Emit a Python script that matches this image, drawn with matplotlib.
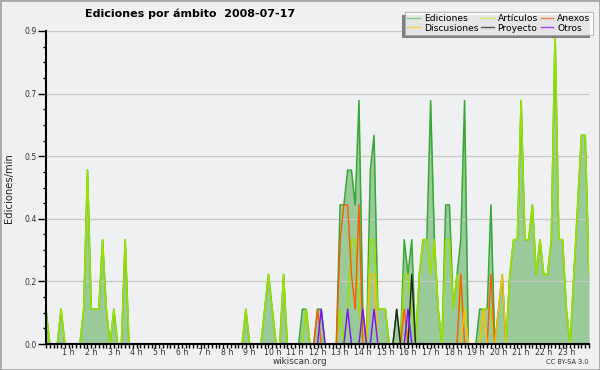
import numpy as np
import matplotlib
matplotlib.use("Agg")
import matplotlib.pyplot as plt
from matplotlib.lines import Line2D
from matplotlib.patches import Rectangle
from matplotlib.ticker import FixedLocator, MultipleLocator

# edits per 10-minute slot, in tenths of an edit per minute (one row per hour)
ediciones = [
    1, 0, 0, 0, 1, 0,   # 0 h
    0, 0, 0, 0, 1, 5,   # 1 h
    1, 1, 1, 3, 1, 0,   # 2 h
    1, 0, 0, 3, 0, 0,   # 3 h
    0, 0, 0, 0, 0, 0,   # 4 h
    0, 0, 0, 0, 0, 0,   # 5 h
    0, 0, 0, 0, 0, 0,   # 6 h
    0, 0, 0, 0, 0, 0,   # 7 h
    0, 0, 0, 0, 0, 1,   # 8 h
    0, 0, 0, 0, 1, 2,   # 9 h
    1, 0, 0, 2, 0, 0,   # 10 h
    0, 0, 1, 1, 0, 0,   # 11 h
    1, 1, 0, 0, 0, 0,   # 12 h
    4, 4, 5, 5, 4, 7,   # 13 h
    1, 0, 5, 6, 1, 1,   # 14 h
    1, 0, 0, 1, 0, 3,   # 15 h
    2, 3, 0, 2, 3, 3,   # 16 h
    7, 3, 1, 0, 4, 4,   # 17 h
    1, 2, 3, 7, 0, 0,   # 18 h
    0, 1, 1, 1, 4, 0,   # 19 h
    1, 2, 0, 2, 3, 3,   # 20 h
    7, 3, 3, 4, 2, 3,   # 21 h
    2, 2, 3, 9, 3, 3,   # 22 h
    1, 0, 2, 4, 6, 6,   # 23 h
    2,
]

articulos = [
    1, 0, 0, 0, 1, 0,
    0, 0, 0, 0, 1, 5,
    1, 1, 1, 3, 1, 0,
    1, 0, 0, 3, 0, 0,
    0, 0, 0, 0, 0, 0,
    0, 0, 0, 0, 0, 0,
    0, 0, 0, 0, 0, 0,
    0, 0, 0, 0, 0, 0,
    0, 0, 0, 0, 0, 1,
    0, 0, 0, 0, 1, 2,
    1, 0, 0, 2, 0, 0,
    0, 0, 0, 1, 0, 0,
    0, 0, 0, 0, 0, 0,
    1, 0, 1, 3, 3, 1,
    0, 0, 3, 3, 1, 1,
    1, 0, 0, 0, 0, 2,
    2, 1, 0, 2, 3, 3,
    2, 3, 1, 0, 3, 3,
    1, 2, 1, 1, 0, 0,
    0, 0, 1, 1, 1, 0,
    0, 0, 0, 2, 3, 3,
    7, 3, 3, 4, 2, 3,
    2, 2, 3, 9, 3, 3,
    1, 0, 2, 4, 6, 6,
    2,
]

# sparse series: slot index -> tenths of an edit per minute
anexos = {72: 1, 78: 3, 79: 4, 80: 4, 81: 2, 82: 1, 83: 4, 95: 1, 110: 2, 118: 2}
discusiones = {86: 2, 87: 2, 111: 1, 116: 1, 120: 1, 121: 2}
proyecto = {93: 1, 97: 2}
otros = {73: 1, 80: 1, 84: 1, 87: 1, 96: 1}

ytick_labels = ["0.0", "0.2", "0.4", "0.5", "0.7", "0.9"]
hour_labels = [f"{h} h" for h in range(1, 24)]

legend_names = ["Ediciones", "Discusiones", "Artículos", "Proyecto", "Anexos", "Otros"]
legend_colors = ["#80cc80", "#f8d048", "#c8ee60", "#555555", "#f08050", "#a040f0"]

n = len(ediciones)
t = np.arange(n) / 6.0


def sparse(d):
    arr = np.zeros(n)
    for k, v in d.items():
        arr[k] = v
    return arr / 10.0


ed = np.array(ediciones) / 10.0
art = np.array(articulos) / 10.0

bg = "#eff0f1"
fig = plt.figure(figsize=(6, 3.7), dpi=100, facecolor=bg)
ax = fig.add_axes([46 / 600, 1 - 344 / 370, 543 / 600, 313 / 370])
ax.set_facecolor(bg)

ax.fill_between(t, 0, ed, color="#9ac99a", linewidth=0, zorder=1)
ax.plot(t, ed, color="#36a836", lw=1.1, zorder=2)
ax.plot(t, art, color="#9ae000", lw=1.2, zorder=2.1)
ax.plot(t, sparse(anexos), color="#ff5a00", lw=1.0, zorder=2.2)
ax.plot(t, sparse(discusiones), color="#ffbf00", lw=1.0, zorder=2.2)
ax.plot(t, sparse(proyecto), color="#222222", lw=1.0, zorder=2.2)
ax.plot(t, sparse(otros), color="#7a10ff", lw=1.0, zorder=2.2)

ymax = 0.9
ax.set_xlim(0, 24)
ax.set_ylim(0, ymax)

yt = np.linspace(0, ymax, len(ytick_labels))
ax.yaxis.set_major_locator(FixedLocator(yt))
ax.set_yticklabels(ytick_labels)
ax.yaxis.set_minor_locator(MultipleLocator(ymax / 20))
ax.xaxis.set_major_locator(FixedLocator(np.arange(1, 24)))
ax.set_xticklabels(hour_labels)
ax.xaxis.set_minor_locator(MultipleLocator(1 / 6))

ax.tick_params(axis="y", which="major", length=5.5, width=1, pad=1, labelsize=5.6, labelcolor="#333333")
ax.tick_params(axis="y", which="minor", length=2.5, width=1)
ax.tick_params(axis="x", which="major", length=2.6, width=1, pad=0, labelsize=5.6, labelcolor="#333333")
ax.tick_params(axis="x", which="minor", length=2.6, width=1)

ax.grid(axis="y", color="#c8c8c8", lw=0.9)
ax.set_axisbelow("line")
for s in ["top", "right"]:
    ax.spines[s].set_visible(False)
for s in ["left", "bottom"]:
    ax.spines[s].set_linewidth(1.5)
    ax.spines[s].set_zorder(3)

fig.text(85 / 600, 1 - 14 / 370, "Ediciones por ámbito  2008-07-17",
         fontsize=8.0, fontweight="bold", ha="left", va="center")
fig.text(9 / 600, 1 - 188 / 370, "Ediciones/min", rotation=90,
         fontsize=7.2, ha="center", va="center", color="#222222")
fig.text(300 / 600, 1 - 361 / 370, "wikiscan.org", fontsize=6.3,
         ha="center", va="center", color="#333333")
fig.text(589 / 600, 1 - 361.5 / 370, "CC BY-SA 3.0", fontsize=4.8,
         ha="right", va="center", color="#333333")

handles = [Line2D([], [], color=c, lw=1.0) for c in legend_colors]
leg = fig.legend(handles, legend_names, loc="upper right",
                 bbox_to_anchor=(593 / 600, 1 - 11.5 / 370), ncol=3,
                 fontsize=6.6, frameon=True, fancybox=False,
                 handlelength=1.4, handletextpad=0.4, columnspacing=0.3,
                 labelspacing=0.05, borderpad=0.3, borderaxespad=0)
leg.get_frame().set_facecolor("white")
leg.get_frame().set_edgecolor("#aaaaaa")
leg.get_frame().set_linewidth(0.8)
leg.set_zorder(5)

fig.canvas.draw()
bb = leg.get_window_extent()
fig.patches.append(Rectangle((bb.x0 - 3, bb.y0 - 3), bb.width, bb.height,
                             transform=None, facecolor="#808080",
                             edgecolor="none", zorder=4))
fig.patches.append(Rectangle((0, 0), 1, 1, transform=fig.transFigure,
                             fill=False, edgecolor="#a8a8a8", lw=2, zorder=6))

fig.savefig("out.png", dpi=100, facecolor=bg)
